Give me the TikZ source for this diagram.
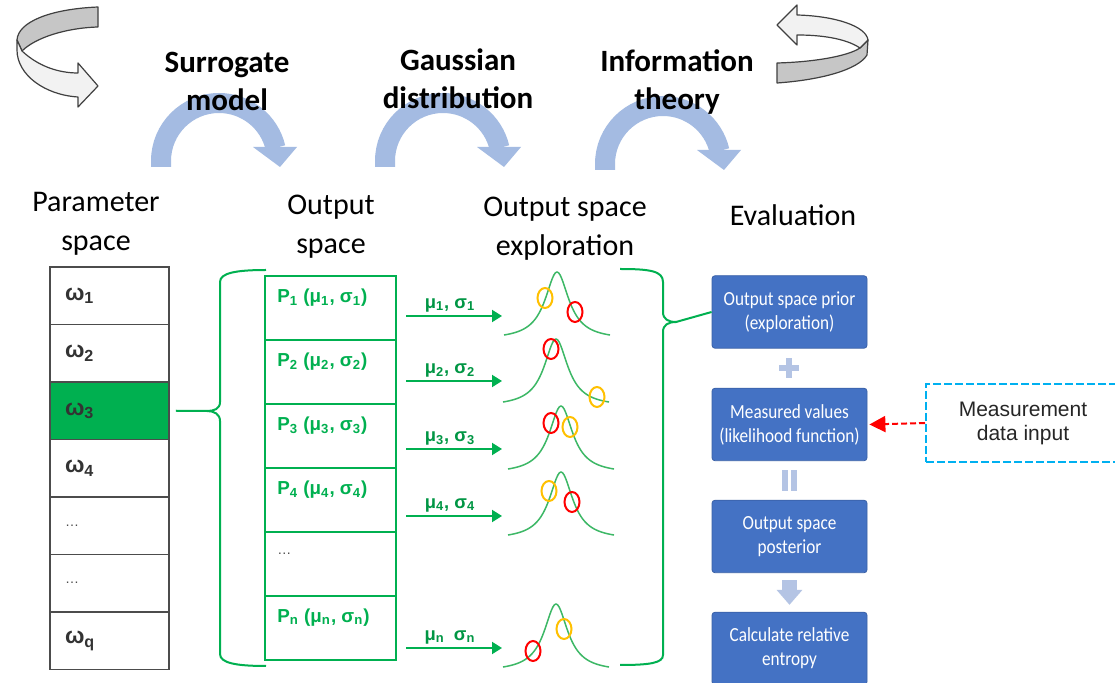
\documentclass[tikz,border=0pt]{standalone}
\usepackage{fontspec}
\setmainfont{Carlito}
\newfontfamily\arialfont{Liberation Sans}
\newfontfamily\boxfont[FakeStretch=0.86]{Carlito}
\usetikzlibrary{arrows.meta}

\definecolor{leafgreen}{HTML}{00B050}
\definecolor{curvegreen}{HTML}{3DB866}
\definecolor{boxblue}{HTML}{4472C4}
\definecolor{paleblue}{HTML}{A4BBE2}
\definecolor{signblue}{HTML}{B4C4E4}
\definecolor{skyblue}{HTML}{00B0F0}
\definecolor{ringred}{HTML}{FF0000}
\definecolor{ringyellow}{HTML}{FFC000}
\definecolor{ribbongray}{HTML}{C6C6C6}
\definecolor{ribbonlight}{HTML}{F2F2F2}

\newcommand\lowidx[1]{\textsubscript{#1}}

\begin{document}
\begin{tikzpicture}[x=0.5pt,y=-0.5pt,
  wcell/.style={draw=black!70,line width=0.8pt,minimum height=28.75pt,text width=44.5pt,inner xsep=7.5pt,inner ysep=0pt,align=left,font=\arialfont\bfseries\fontsize{11.5}{13}\selectfont,text=black!80},
  pcell/.style={draw=leafgreen,line width=1pt,minimum width=65.5pt,minimum height=32pt,inner sep=0pt},
  plabel/.style={anchor=west,inner sep=0pt,text=leafgreen,font=\arialfont\bfseries\fontsize{9.4}{11}\selectfont},
  flow/.style={draw=leafgreen,line width=1pt,-{Triangle[width=6pt,length=5pt]}},
  mulabel/.style={above=1.5pt,inner sep=0pt,text=leafgreen!85!black,font=\arialfont\bfseries\fontsize{9.2}{11}\selectfont},
  bell/.style={draw=curvegreen,line width=0.75pt},
  ring/.style={draw=#1,line width=1pt},
  brace/.style={draw=leafgreen,line width=1pt},
  evalbox/.style={fill=boxblue,draw=boxblue!85!black,line width=0.4pt,rounded corners=1.5pt,minimum width=77.5pt,minimum height=36.25pt,align=center,text=white,font=\boxfont\fontsize{10}{12}\selectfont},
  heading/.style={align=center,font=\fontsize{15}{19.5}\selectfont},
  topic/.style={align=center,font=\bfseries\fontsize{15.5}{19}\selectfont},
  ribbon/.style={draw=black!75,line width=0.6pt,line join=round},
  bluearc/.pic={
    \draw[paleblue,line width=10pt] (-58,6) -- (-58,0) arc[start angle=180,end angle=13,radius=29pt];
    \fill[paleblue] (34,-14) -- (78,-14) -- (61,6) -- cycle;
  }
]
  \useasboundingbox[fill=white] (0,0) rectangle (1115,683);
  \clip (0,0) rectangle (1115,683);

  % grey ribbon arrows in the corners
  \draw[ribbon,fill=ribbongray] (98,7) .. controls (50,9) and (18,22) .. (17,40) -- (22,51) .. controls (35,38) and (65,28) .. (98,27) -- cycle;
  \draw[ribbon,fill=ribbonlight] (22,51) .. controls (38,66) and (58,73) .. (78,73) -- (78,63) -- (98,86) -- (78,107) -- (78,97) .. controls (45,95) and (17,75) .. (17,50) -- (17,40) -- cycle;
  \draw[ribbon,fill=ribbongray] (777,63) .. controls (815,62) and (848,56) .. (860,48) -- (868,40) -- (867,55) .. controls (858,70) and (820,80) .. (777,83) -- cycle;
  \draw[ribbon,fill=ribbonlight] (860,48) .. controls (845,38) and (820,35) .. (797,35) -- (797,45) -- (777,25) -- (797,5) -- (797,15) .. controls (835,16) and (866,26) .. (868,40) -- cycle;

  % pale blue turning arrows
  \pic at (219,161) {bluearc};
  \pic at (443,161) {bluearc};
  \pic at (663,164) {bluearc};

  \node[topic] (hsur) at (227,81) {Surrogate\\model};
  \node[topic] (hgau) at (458,78.5) {Gaussian\\distribution};
  \node[topic] (hinf) at (677,82.5) {Information\\theory};

  \node[heading] (hpar) at (96,223.5) {Parameter\\space};
  \node[heading] (hout) at (331,226.5) {Output\\space};
  \node[heading] (hexp) at (565,228.5) {Output space\\exploration};
  \node[heading] (heval) at (793,215) {Evaluation};

  % parameter space
  \foreach \lbl/\shade [count=\i] in {ω\lowidx{1}/white,ω\lowidx{2}/white,ω\lowidx{3}/leafgreen,ω\lowidx{4}/white,{\mdseries\scriptsize\color{black!70}…}/white,{\mdseries\scriptsize\color{black!70}…}/white,ω\lowidx{q}/white}
    \node[wcell,fill=\shade] (w\i) at (109.5,{267+57.5*(\i-0.5)}) {\lbl};

  % output space
  \foreach \lbl [count=\i] in {{P\lowidx{1} (μ\lowidx{1}, σ\lowidx{1})},{P\lowidx{2} (μ\lowidx{2}, σ\lowidx{2})},{P\lowidx{3} (μ\lowidx{3}, σ\lowidx{3})},{P\lowidx{4} (μ\lowidx{4}, σ\lowidx{4})},{\mdseries\scriptsize\color{black!70}…},{P\lowidx{n} (μ\lowidx{n}, σ\lowidx{n})}}
  {
    \node[pcell] (p\i) at (330.5,{276+64*(\i-0.5)}) {};
    \node[plabel] (pl\i) at ([xshift=6.5pt,yshift=5pt]p\i.west) {\lbl};
  }

  \draw[brace] ([xshift=3pt]w3.east) -- (207,411) .. controls (214,411) and (220,409) .. (220,402) -- (220,282) .. controls (220,273) and (236,270) .. (266,270);
  \draw[brace] (207,411) .. controls (214,411) and (220,414) .. (220,421) -- (220,654) .. controls (220,663) and (236,666) .. (266,666);

  % parameters to distributions
  \foreach \y/\lbl [count=\i] in {316/{μ\lowidx{1}, σ\lowidx{1}},381/{μ\lowidx{2}, σ\lowidx{2}},449/{μ\lowidx{3}, σ\lowidx{3}},516/{μ\lowidx{4}, σ\lowidx{4}},648/{μ\lowidx{n}\enspace σ\lowidx{n}}}
  {
    \coordinate (s\i) at (406,\y);
    \coordinate (e\i) at (502,\y);
    \draw[flow] (s\i) -- node[mulabel,xshift=-2pt] (m\i) {\lbl} (e\i);
  }

  \foreach \cx/\by in {557/335,556/402,561/469,561/535,556/667}
    \draw[bell] plot[domain=-53:53,samples=71] ({\cx+\x},{\by-63*(1/(1+(\x/14.4)^2)-0.069)/0.931});

  \draw[ring=ringyellow] (545,298) ellipse [x radius=3.75pt,y radius=5pt];
  \draw[ring=ringred] (575,312) ellipse [x radius=3.75pt,y radius=5pt];
  \draw[ring=ringred] (551,349) ellipse [x radius=3.75pt,y radius=5pt];
  \draw[ring=ringyellow] (597,397) ellipse [x radius=3.75pt,y radius=5pt];
  \draw[ring=ringred] (551,423) ellipse [x radius=3.75pt,y radius=5pt];
  \draw[ring=ringyellow] (570,427) ellipse [x radius=3.75pt,y radius=5pt];
  \draw[ring=ringyellow] (549,491) ellipse [x radius=3.75pt,y radius=5pt];
  \draw[ring=ringred] (572,502) ellipse [x radius=3.75pt,y radius=5pt];
  \draw[ring=ringyellow] (564,629) ellipse [x radius=3.75pt,y radius=5pt];
  \draw[ring=ringred] (533,651) ellipse [x radius=3.75pt,y radius=5pt];

  % evaluation chain
  \node[evalbox] (prior) at (789.5,312) {Output space prior\\(exploration)};
  \node[evalbox] (meas) at (789.5,424.5) {Measured values\\(likelihood function)};
  \node[evalbox] (post) at (789.5,536.5) {Output space\\posterior};
  \node[evalbox] (entropy) at (789.5,648.5) {Calculate relative\\entropy};

  \draw[brace] (620,269) .. controls (650,269) and (663,271) .. (663,282) -- (663,312) .. controls (663,319) and (668,322) .. (676,322) -- (prior.west);
  \draw[brace] (676,322) .. controls (668,322) and (663,325) .. (663,332) -- (663,655) .. controls (663,663) and (650,665) .. (620,665);

  \fill[signblue] (779,365) rectangle (799,371);
  \fill[signblue] (786,358) rectangle (792,378);
  \fill[signblue] (782,470) rectangle (788,491);
  \fill[signblue] (791,470) rectangle (797,491);
  \draw[signblue,line width=7.5pt,-{Triangle[width=12.5pt,length=7.5pt]}] ([yshift=-3.5pt]post.south) -- ([yshift=3.5pt]entropy.north);

  \node[draw=skyblue,line width=1pt,dash pattern=on 4pt off 1.5pt,minimum width=97pt,minimum height=39pt,align=center,font=\arialfont\fontsize{10.5}{12}\selectfont,text=black!85] (mdata) at (1023,423) {Measurement\\data input};
  \draw[ringred,line width=1pt,dash pattern=on 3pt off 1.5pt,-{Triangle[width=8pt,length=8pt]}] (mdata.west) -- ([xshift=1pt]meas.east);
\end{tikzpicture}
\end{document}
